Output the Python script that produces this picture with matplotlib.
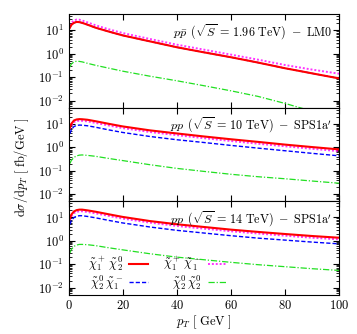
import numpy as np
import matplotlib
matplotlib.use("Agg")
import matplotlib.pyplot as plt
from matplotlib.ticker import LogLocator, NullFormatter, MultipleLocator

plt.rcParams.update({
    'font.family': 'serif',
    'font.serif': ['cmr10'],
    'mathtext.fontset': 'cm',
    'axes.formatter.use_mathtext': True,
    'font.size': 9,
    'axes.unicode_minus': True,
})

# transverse momentum grid (GeV)
pt = [0.5, 1, 2, 3, 4, 5, 7, 10, 15, 20, 30, 40, 50, 60, 70, 80, 90, 100]

# panel 1: p pbar, sqrt(S)=1.96 TeV, LM0
lm0_c1n2 = [13, 17, 21, 23, 22.5, 21, 17.5, 13, 8.8, 6.1, 3.4, 1.9, 1.15, 0.71, 0.42, 0.24, 0.145, 0.088]
lm0_n2c1 = lm0_c1n2
lm0_c1c1 = [16, 21, 26.5, 29, 28.5, 26.5, 22, 16.5, 11, 7.7, 4.3, 2.45, 1.5, 0.92, 0.56, 0.33, 0.21, 0.14]
lm0_n2n2 = [0.27, 0.36, 0.45, 0.48, 0.47, 0.45, 0.39, 0.32, 0.24, 0.18, 0.11, 0.07, 0.043, 0.026, 0.015, 0.0075, 0.0035, 0.0016]

# panel 2: pp, sqrt(S)=10 TeV, SPS1a'
s10_c1n2 = [7, 10, 14, 15.5, 16, 15.8, 15, 13, 10, 7.8, 5.3, 3.9, 2.9, 2.2, 1.7, 1.3, 1.02, 0.81]
s10_n2c1 = [3.8, 5.5, 7.7, 8.6, 8.9, 8.8, 8.3, 7.2, 5.5, 4.3, 2.9, 2.1, 1.6, 1.2, 0.92, 0.71, 0.55, 0.43]
s10_c1c1 = [6, 8.5, 12, 13.3, 13.7, 13.5, 12.8, 11, 8.5, 6.6, 4.5, 3.3, 2.45, 1.85, 1.42, 1.1, 0.86, 0.68]
s10_n2n2 = [0.2, 0.27, 0.37, 0.43, 0.46, 0.47, 0.45, 0.41, 0.33, 0.27, 0.18, 0.125, 0.093, 0.07, 0.055, 0.045, 0.036, 0.029]

# panel 3: pp, sqrt(S)=14 TeV, SPS1a'
s14_c1n2 = [9, 13, 18, 20.5, 21.5, 21.5, 20, 17.5, 13.5, 10.5, 7, 5.1, 3.9, 3.0, 2.4, 1.95, 1.6, 1.35]
s14_n2c1 = [5, 7.2, 9.9, 11.3, 11.8, 11.8, 11, 9.6, 7.4, 5.8, 3.9, 2.8, 2.15, 1.65, 1.3, 1.07, 0.88, 0.74]
s14_c1c1 = [7.7, 11, 15.3, 17.4, 18.3, 18.3, 17, 14.9, 11.5, 8.9, 6, 4.3, 3.3, 2.55, 2.05, 1.65, 1.35, 1.15]
s14_n2n2 = [0.3, 0.42, 0.58, 0.66, 0.7, 0.7, 0.68, 0.62, 0.5, 0.41, 0.28, 0.2, 0.155, 0.12, 0.095, 0.078, 0.064, 0.054]

titles = [r'$p\bar{p}\ \,(\sqrt{S}\, =\, 1.96\ \mathrm{TeV})\ -\ \mathrm{LM0}$',
          r"$pp\ \,(\sqrt{S}\, =\, 10\ \mathrm{TeV})\ -\ \mathrm{SPS1a}'$",
          r"$pp\ \,(\sqrt{S}\, =\, 14\ \mathrm{TeV})\ -\ \mathrm{SPS1a}'$"]
panels = [(lm0_c1n2, lm0_n2c1, lm0_c1c1, lm0_n2n2),
          (s10_c1n2, s10_n2c1, s10_c1c1, s10_n2n2),
          (s14_c1n2, s14_n2c1, s14_c1c1, s14_n2n2)]
labels = [r'$\tilde{\chi}^+_1\,\tilde{\chi}^0_2$', r'$\tilde{\chi}^0_2\,\tilde{\chi}^-_1$',
          r'$\tilde{\chi}^+_1\,\tilde{\chi}^-_1$', r'$\tilde{\chi}^0_2\,\tilde{\chi}^0_2$']

fig, axes = plt.subplots(3, 1, sharex=True, figsize=(3.57, 3.34), dpi=100)
fig.subplots_adjust(left=0.192, right=0.95, top=0.958, bottom=0.118, hspace=0)

for ax, title, (c1n2, n2c1, c1c1, n2n2) in zip(axes, titles, panels):
    hb, = ax.plot(pt, n2c1, color='#0000ff', lw=1.0, ls=(0, (3, 1.5)), label=labels[1])
    hm, = ax.plot(pt, c1c1, color='#ff00ff', lw=1.4, ls=(0, (1, 1)), alpha=0.8, label=labels[2])
    hr, = ax.plot(pt, c1n2, color='#ff0000', lw=1.5, label=labels[0])
    hg, = ax.plot(pt, n2n2, color='#22e022', lw=0.9, ls=(0, (5, 1.5, 1, 1.5)), label=labels[3])
    ax.set_yscale('log')
    ax.set_xlim(0, 100)
    ax.set_ylim(0.005, 50)
    ax.yaxis.set_minor_locator(LogLocator(base=10, subs=np.arange(2, 10), numticks=10))
    ax.yaxis.set_minor_formatter(NullFormatter())
    ax.set_yticks([0.01, 0.1, 1, 10])
    ax.xaxis.set_major_locator(MultipleLocator(20))
    ax.tick_params(which='both', direction='in', top=True, right=True, labelsize=9)
    ax.tick_params(which='major', length=4)
    ax.tick_params(which='minor', length=2)
    ax.text(0.975, 0.91, title, transform=ax.transAxes, ha='right', va='top', fontsize=8.7)

axes[2].legend([hr, hb, hm, hg], labels, ncol=2, markerfirst=False, frameon=False,
               loc='lower left', bbox_to_anchor=(0.03, -0.09), handlelength=1.5,
               handletextpad=0.5, columnspacing=1.2, labelspacing=0.0, fontsize=9)
axes[2].set_xlabel(r'$p_T\ [\ \mathrm{GeV}\ ]$', labelpad=1, fontsize=9)
fig.text(0.06, 0.5, r'$\mathrm{d}\sigma/\mathrm{d}p_T\ [\ \mathrm{fb/GeV}\ ]$',
         rotation=90, ha='center', va='center', fontsize=9)

plt.savefig('out.png', dpi=100)
